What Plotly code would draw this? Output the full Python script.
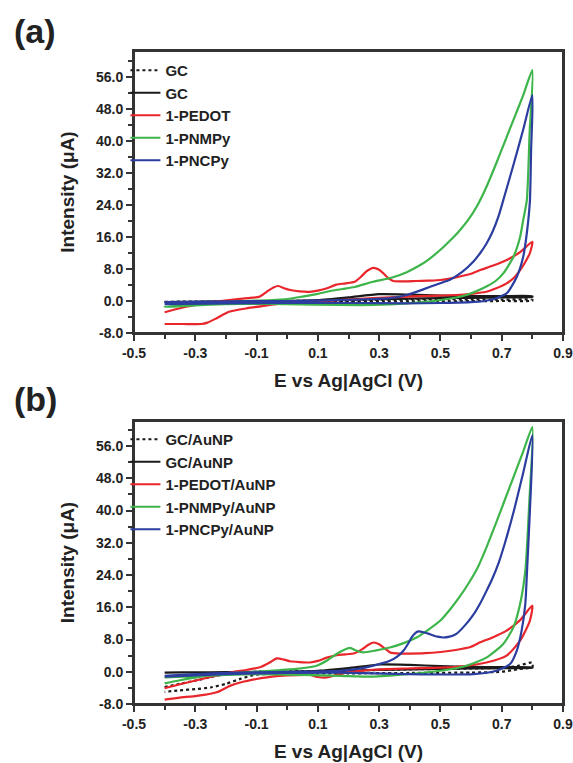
import plotly.graph_objects as go

# ---------------- Panel (a) data ----------------
gc_dot_a_x = [-0.4, -0.3, -0.2, -0.1, 0.0, 0.1, 0.2, 0.3, 0.4, 0.5, 0.6, 0.7, 0.8,
              0.8, 0.7, 0.6, 0.5, 0.4, 0.3, 0.2, 0.1, 0.0, -0.1, -0.2, -0.3, -0.4]
gc_dot_a_y = [-0.2, -0.15, -0.1, -0.05, 0.0, 0.05, 0.1, 0.3, 0.45, 0.45, 0.4, 0.35, 0.3,
              0.1, 0.0, -0.05, -0.1, -0.1, -0.1, -0.1, -0.15, -0.15, -0.2, -0.2, -0.25, -0.3]

gc_a_x = [-0.4, -0.3, -0.2, -0.1, 0.0, 0.1, 0.2, 0.3, 0.4, 0.5, 0.6, 0.7, 0.8,
          0.8, 0.7, 0.6, 0.5, 0.4, 0.3, 0.2, 0.1, 0.0, -0.1, -0.2, -0.3, -0.4]
gc_a_y = [-0.3, -0.25, -0.2, -0.1, 0.0, 0.2, 0.9, 1.7, 1.6, 1.35, 1.2, 1.2, 1.2,
          1.0, 0.9, 0.8, 0.7, 0.6, 0.45, 0.3, 0.1, 0.0, -0.1, -0.15, -0.2, -0.25]

pedot_a_x = [-0.40, -0.35, -0.30, -0.25, -0.19, -0.13, -0.09, -0.067, -0.045, -0.029, -0.01, 0.01,
             0.04, 0.074, 0.10, 0.13, 0.16, 0.19, 0.22, 0.24, 0.26, 0.281, 0.30, 0.314, 0.33, 0.346,
             0.38, 0.42, 0.46, 0.50, 0.55, 0.60, 0.63, 0.67, 0.72, 0.76, 0.80,
             0.792, 0.775, 0.76, 0.74, 0.716, 0.68, 0.65, 0.60, 0.55, 0.47, 0.39, 0.28, 0.17, 0.08,
             -0.014, -0.08, -0.13, -0.19, -0.23, -0.26, -0.28, -0.34, -0.40]
pedot_a_y = [-2.8, -1.8, -1.0, -0.3, 0.25, 0.7, 1.1, 2.3, 3.4, 3.75, 3.2, 2.75,
             2.4, 2.3, 2.6, 3.2, 4.1, 4.4, 4.8, 6.0, 7.5, 8.3, 7.8, 6.9, 5.7, 5.0,
             4.9, 5.0, 5.1, 5.25, 5.9, 6.8, 7.75, 8.8, 10.4, 12.2, 14.8,
             12.0, 9.5, 7.7, 5.8, 4.4, 3.1, 2.3, 1.8, 1.5, 1.3, 1.1, 0.7, 0.25, -0.3,
             -0.6, -1.25, -1.8, -2.7, -4.3, -5.4, -5.75, -5.75, -5.75]

pnmpy_a_x = [-0.40, -0.35, -0.30, -0.20, -0.15, -0.10, 0.0, 0.05, 0.10, 0.14, 0.18, 0.22, 0.28,
             0.34, 0.39, 0.43, 0.46, 0.50, 0.53, 0.56, 0.59, 0.62, 0.65, 0.68, 0.71, 0.74,
             0.77, 0.80,
             0.791, 0.782, 0.77, 0.76, 0.738, 0.705, 0.68, 0.65, 0.585, 0.50, 0.39, 0.28, 0.17,
             0.0, -0.1, -0.2, -0.3, -0.4]
pnmpy_a_y = [-1.5, -1.1, -0.8, -0.3, 0.0, 0.1, 0.5, 1.1, 1.8, 2.5, 3.0, 3.5, 4.8,
             5.8, 7.2, 8.8, 10.3, 12.8, 15.0, 17.4, 20.2, 23.8, 28.5, 34.0, 39.8, 45.6,
             51.4, 57.7,
             42.0, 25.2, 20.2, 16.0, 11.0, 6.9, 5.0, 3.6, 1.5, 0.25, -0.6, -1.0, -1.0,
             -0.8, -0.7, -0.8, -1.1, -1.5]

pncpy_a_x = [-0.4, -0.2, 0.0, 0.17, 0.28, 0.335, 0.39, 0.444, 0.49, 0.531, 0.57, 0.607, 0.63,
             0.65, 0.67, 0.69, 0.71, 0.74, 0.77, 0.80,
             0.796, 0.792, 0.782, 0.77, 0.749, 0.716, 0.662, 0.6, 0.5, 0.39, 0.2, 0.0, -0.2, -0.4]
pncpy_a_y = [-0.3, -0.1, 0.0, 0.25, 0.5, 0.7, 1.5, 2.9, 4.2, 5.3, 7.2, 9.8, 12.0,
             14.3, 17.3, 21.3, 26.5, 34.5, 42.8, 51.5,
             38.0, 25.0, 17.0, 11.0, 6.0, 1.9, 0.25, -0.3, -0.5, -0.6, -0.5, -0.5, -0.6, -0.8]

# ---------------- Panel (b) data ----------------
gc_dot_b_x = [-0.4, -0.35, -0.3, -0.25, -0.2, -0.15, -0.1, 0.0, 0.2, 0.4, 0.6, 0.7, 0.75, 0.8,
              0.8, 0.75, 0.7, 0.6, 0.4, 0.2, 0.0, -0.1, -0.15, -0.2, -0.25, -0.3, -0.35, -0.4]
gc_dot_b_y = [-3.8, -3.0, -2.2, -1.3, -0.6, -0.2, 0.0, 0.1, 0.3, 0.6, 0.8, 1.0, 1.4, 2.3,
              1.2, 0.6, 0.0, -0.2, -0.3, -0.4, -0.5, -0.7, -1.7, -3.0, -3.9, -4.3, -4.6, -5.0]

gc_b_x = [-0.4, -0.3, -0.2, -0.1, 0.0, 0.1, 0.2, 0.3, 0.4, 0.5, 0.6, 0.7, 0.8,
          0.8, 0.7, 0.6, 0.5, 0.4, 0.3, 0.2, 0.1, 0.0, -0.1, -0.2, -0.3, -0.4]
gc_b_y = [-0.2, -0.15, -0.1, -0.05, 0.0, 0.2, 0.9, 1.8, 1.7, 1.4, 1.2, 1.15, 1.1,
          1.0, 0.9, 0.8, 0.7, 0.6, 0.45, 0.3, 0.1, 0.0, -0.05, -0.1, -0.15, -0.2]

pedot_b_x = [-0.40, -0.35, -0.295, -0.24, -0.187, -0.13, -0.089, -0.057, -0.034, -0.01, 0.009, 0.04,
             0.074, 0.10, 0.129, 0.161, 0.19, 0.22, 0.245, 0.265, 0.283, 0.30, 0.318, 0.337, 0.37,
             0.40, 0.45, 0.50, 0.55, 0.60, 0.63, 0.67, 0.716, 0.76, 0.80,
             0.792, 0.76, 0.716, 0.65, 0.552, 0.39, 0.281, 0.25, 0.2, 0.16, 0.13, 0.1, 0.074, 0.0,
             -0.05, -0.1, -0.15, -0.187, -0.23, -0.295, -0.35, -0.4]
pedot_b_y = [-4.1, -3.1, -2.1, -1.1, -0.2, 0.5, 1.1, 2.3, 3.3, 3.0, 2.6, 2.4,
             2.3, 2.7, 3.5, 4.1, 4.3, 4.6, 5.6, 6.7, 7.25, 6.8, 5.8, 4.75, 4.5,
             4.5, 4.6, 4.9, 5.4, 6.2, 7.3, 8.5, 10.2, 12.8, 16.4,
             12.7, 7.7, 4.0, 2.3, 1.2, 0.8, 0.5, 0.3, -0.1, -0.8, -1.4, -1.3, -0.8, -0.9,
             -1.2, -1.8, -2.6, -3.5, -5.1, -6.0, -6.4, -6.9]

pnmpy_b_x = [-0.4, -0.35, -0.295, -0.24, -0.187, -0.079, 0.03, 0.096, 0.13, 0.161, 0.185, 0.205,
             0.227, 0.248, 0.29, 0.335, 0.38, 0.422, 0.46, 0.50, 0.53, 0.56, 0.59, 0.62,
             0.65, 0.68, 0.71, 0.74, 0.77, 0.80,
             0.79, 0.777, 0.76, 0.738, 0.705, 0.65, 0.585, 0.499, 0.39, 0.281, 0.172, 0.0, -0.1,
             -0.2, -0.3, -0.4]
pnmpy_b_y = [-2.9, -2.1, -1.4, -0.8, -0.4, 0.1, 0.7, 1.5, 2.8, 4.4, 5.4, 5.9,
             5.2, 4.8, 5.3, 6.0, 7.1, 8.5, 10.4, 12.7, 15.3, 18.3, 21.7, 25.6,
             30.8, 36.6, 42.6, 48.6, 54.6, 60.7,
             42.0, 25.0, 16.8, 11.0, 6.9, 3.5, 1.5, 0.25, -0.6, -1.2, -1.0, -0.7, -0.6,
             -0.8, -1.1, -1.4]

pncpy_b_x = [-0.4, -0.2, 0.0, 0.172, 0.23, 0.281, 0.335, 0.36, 0.379, 0.395, 0.406, 0.418, 0.428,
             0.445, 0.466, 0.49, 0.509, 0.53, 0.552, 0.58, 0.607, 0.63, 0.65, 0.67, 0.69, 0.71,
             0.74, 0.77, 0.80,
             0.792, 0.782, 0.777, 0.765, 0.749, 0.727, 0.683, 0.607, 0.39, 0.172, 0.0, -0.2, -0.4]
pncpy_b_y = [-1.0, -0.3, 0.0, 0.25, 0.7, 1.5, 2.7, 3.8, 5.2, 7.0, 8.5, 9.6, 10.0,
             9.8, 9.3, 8.7, 8.5, 8.7, 9.4, 11.5, 14.1, 17.0, 20.0, 23.2, 27.0, 31.8,
             40.0, 49.3, 58.7,
             40.0, 24.0, 16.8, 10.2, 5.2, 1.9, 0.25, -0.6, -0.6, -0.2, -0.3, -0.6, -1.2]

names_a = ["GC", "GC", "1-PEDOT", "1-PNMPy", "1-PNCPy"]
names_b = ["GC/AuNP", "GC/AuNP", "1-PEDOT/AuNP", "1-PNMPy/AuNP", "1-PNCPy/AuNP"]

x_ticks = [-0.5, -0.3, -0.1, 0.1, 0.3, 0.5, 0.7, 0.9]
x_tick_text = ["-0.5", "-0.3", "-0.1", "0.1", "0.3", "0.5", "0.7", "0.9"]
y_ticks = [-8, 0, 8, 16, 24, 32, 40, 48, 56]
y_tick_text = ["-8.0", "0.0", "8.0", "16.0", "24.0", "32.0", "40.0", "48.0", "56.0"]

colors = ["#1a1a1a", "#1a1a1a", "#e8262b", "#3db54a", "#2b3d9e"]
dashes = ["dot", "solid", "solid", "solid", "solid"]

FONT = "Liberation Sans, Arial, Helvetica, sans-serif"

fig = go.Figure()

series_a = [(gc_dot_a_x, gc_dot_a_y), (gc_a_x, gc_a_y), (pedot_a_x, pedot_a_y),
            (pnmpy_a_x, pnmpy_a_y), (pncpy_a_x, pncpy_a_y)]
series_b = [(gc_dot_b_x, gc_dot_b_y), (gc_b_x, gc_b_y), (pedot_b_x, pedot_b_y),
            (pnmpy_b_x, pnmpy_b_y), (pncpy_b_x, pncpy_b_y)]

for i, (xs, ys) in enumerate(series_a):
    fig.add_trace(go.Scatter(x=xs, y=ys, mode="lines", name=names_a[i],
                             legendgroup="a%d" % i,
                             line=dict(color=colors[i], width=2.2, dash=dashes[i],
                                       shape="spline", smoothing=0.6),
                             xaxis="x", yaxis="y", legend="legend"))
for i, (xs, ys) in enumerate(series_b):
    fig.add_trace(go.Scatter(x=xs, y=ys, mode="lines", name=names_b[i],
                             legendgroup="b%d" % i,
                             line=dict(color=colors[i], width=2.2, dash=dashes[i],
                                       shape="spline", smoothing=0.6),
                             xaxis="x2", yaxis="y2", legend="legend2"))

# plot area: left 134, right 563 ; top panel 51-333, bottom panel 421-704
H_TOTAL = 763 - 51 - 59
top_dom = [(704 - 333) / H_TOTAL, 1.0]
bot_dom = [0.0, (704 - 421) / H_TOTAL]

def xaxis_cfg(anchor):
    return dict(range=[-0.5, 0.9], tickvals=x_ticks, ticktext=x_tick_text,
                ticks="outside", ticklen=6, tickwidth=1.5, tickcolor="#333",
                minor=dict(dtick=0.1, tick0=-0.5, ticks="outside", ticklen=4, tickwidth=1.5, tickcolor="#333"),
                showline=True, linecolor="#333", linewidth=2, mirror=True,
                showgrid=False, zeroline=False, anchor=anchor, automargin=False,
                tickfont=dict(family=FONT, size=14, color="#222", weight="bold"),
                title=dict(text="E vs Ag|AgCl (V)", standoff=14,
                           font=dict(family=FONT, size=19, color="#222", weight="bold")))

def yaxis_cfg(anchor, domain, rng):
    return dict(range=rng, domain=domain, tickvals=y_ticks, ticktext=y_tick_text,
                ticks="outside", ticklen=6, tickwidth=1.5, tickcolor="#333",
                minor=dict(dtick=4, tick0=0, ticks="outside", ticklen=4, tickwidth=1.5, tickcolor="#333"),
                showline=True, linecolor="#333", linewidth=2, mirror=True,
                showgrid=False, zeroline=False, anchor=anchor, automargin=False,
                tickfont=dict(family=FONT, size=14, color="#222", weight="bold"),
                title=dict(text="Intensity (μA)", standoff=16,
                           font=dict(family=FONT, size=19, color="#222", weight="bold")))

legend_common = dict(bgcolor="rgba(0,0,0,0)", borderwidth=0, xanchor="left", yanchor="top",
                     font=dict(family=FONT, size=15, color="#222", weight="bold"),
                     itemwidth=30, tracegroupgap=0, traceorder="grouped")

fig.update_layout(
    width=573, height=763,
    margin=dict(l=134, r=10, t=51, b=59, autoexpand=False),
    paper_bgcolor="white", plot_bgcolor="white",
    xaxis=xaxis_cfg("y"),
    yaxis=yaxis_cfg("x", top_dom, [-8, 62.5]),
    xaxis2=xaxis_cfg("y2"),
    yaxis2=yaxis_cfg("x2", bot_dom, [-8, 62.2]),
    legend=dict(x=-0.02, y=(704 - 54) / H_TOTAL, **legend_common),
    legend2=dict(x=-0.02, y=(704 - 423) / H_TOTAL, **legend_common),
    shapes=[
        dict(type="rect", xref="paper", yref="paper", x0=0, x1=1, y0=top_dom[0], y1=top_dom[1],
             line=dict(color="#333", width=2), layer="above"),
        dict(type="rect", xref="paper", yref="paper", x0=0, x1=1, y0=bot_dom[0], y1=bot_dom[1],
             line=dict(color="#333", width=2), layer="above"),
    ],
    annotations=[
        dict(text="(a)", xref="paper", yref="paper", x=(12 - 134) / 429, y=(704 - 31) / H_TOTAL,
             xanchor="left", yanchor="middle", showarrow=False,
             font=dict(family=FONT, size=34, color="#222", weight="bold")),
        dict(text="(b)", xref="paper", yref="paper", x=(12 - 134) / 429, y=(704 - 399) / H_TOTAL,
             xanchor="left", yanchor="middle", showarrow=False,
             font=dict(family=FONT, size=34, color="#222", weight="bold")),
    ],
)

fig.write_html("out.html",
               post_script="document.body.style.margin='0';document.body.style.padding='0';",
               config={"displayModeBar": False})
